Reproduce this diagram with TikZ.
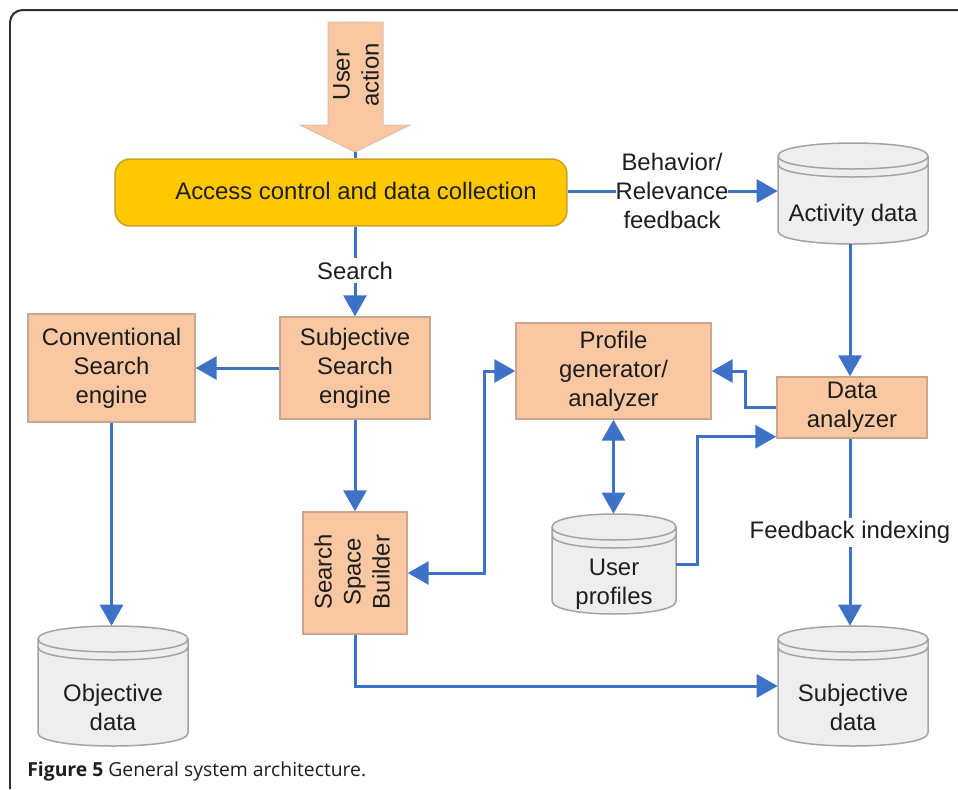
\documentclass[tikz,border=0pt]{standalone}
\usepackage{fontspec}
\setmainfont{Liberation Sans}
\newfontfamily\capfont{Open Sans}
\usetikzlibrary{arrows.meta,calc}

\definecolor{peach}{HTML}{F9C7A2}
\definecolor{peachline}{HTML}{C9A68C}
\definecolor{gold}{HTML}{FFC800}
\definecolor{goldline}{HTML}{C9A227}
\definecolor{flow}{HTML}{3D72C6}
\definecolor{dbfill}{HTML}{EEEEEE}
\definecolor{dbline}{HTML}{A3A3A3}
\definecolor{ink}{HTML}{1E1E1E}
\definecolor{frameline}{HTML}{2E2E2E}

\tikzset{
  x=0.02cm, y=-0.02cm,
  txt/.style={font=\fontsize{13.6}{16.5}\selectfont, text=ink, align=center, inner sep=1pt},
  proc/.style={txt, draw=peachline, fill=peach, line width=0.03cm, inner sep=0pt},
  flowline/.style={draw=flow, line width=0.06cm},
  tip/.style={-{Triangle[length=0.42cm,width=0.46cm]}},
  twotips/.style={{Triangle[length=0.42cm,width=0.46cm]}-{Triangle[length=0.42cm,width=0.46cm]}},
  gap/.style={txt, fill=white, inner sep=2pt},
  dbshape/.style={draw=dbline, fill=dbfill, line width=0.03cm},
}

% database cylinder: name, left, right, top, bottom, text y, text
\newcommand\dbcyl[7]{%
  \draw[dbshape] (#2,#4+13) -- (#2,#5-13)
    .. controls (#2,#5+4.33) and (#3,#5+4.33) .. (#3,#5-13)
    -- (#3,#4+13)
    .. controls (#3,#4-4.33) and (#2,#4-4.33) .. (#2,#4+13) -- cycle;
  \draw[draw=dbline, line width=0.03cm] (#2,#4+13)
    .. controls (#2,#4+30.33) and (#3,#4+30.33) .. (#3,#4+13);
  \draw[draw=dbline, line width=0.03cm] (#2,#4+21)
    .. controls (#2,#4+38.33) and (#3,#4+38.33) .. (#3,#4+21);
  \node[minimum width={(#3-#2)*0.569pt}, minimum height={(#5-#4)*0.569pt}, inner sep=0pt]
    (#1) at ({(#2+#3)/2},{(#4+#5)/2}) {};
  \node[txt] (#1-txt) at ({(#2+#3)/2},#6) {#7};
}

\begin{document}
\begin{tikzpicture}
\useasboundingbox (0,0) rectangle (958,789);

% outer frame
\draw[frameline, line width=0.04cm, rounded corners=0.25cm] (10,789) -- (10,10) -- (958,10);

% user action arrow
\draw[fill=peach, draw=peachline!70, line width=0.02cm]
  (328,22) -- (383,22) -- (383,125) -- (410,125) -- (355,152) -- (300,125) -- (328,125) -- cycle;
\node[txt, rotate=90] (useraction) at (356,75) {User\\action};
\coordinate (arrowtip) at (355,152);

% access control
\node[draw=goldline, fill=gold, line width=0.03cm, rounded corners=0.3cm,
      minimum width={452*0.569pt}, minimum height={67*0.569pt}, inner sep=0pt]
  (acc) at (341,192.5) {};
\node[txt] (acc-txt) at (356,191) {Access control and data collection};

% processing boxes
\node[proc, minimum width={167*0.569pt}, minimum height={108*0.569pt}] (conv) at (111.5,368) {Conventional\\Search\\engine};
\node[proc, minimum width={150*0.569pt}, minimum height={102*0.569pt}] (subj) at (355,368) {Subjective\\Search\\engine};
\node[proc, minimum width={195*0.569pt}, minimum height={96*0.569pt}] (prof) at (613.5,371) {Profile\\generator/\\analyzer};
\node[proc, minimum width={150*0.569pt}, minimum height={61*0.569pt}] (da) at (852,407.5) {Data\\analyzer};
\node[proc, minimum width={104*0.569pt}, minimum height={122*0.569pt}] (ssb) at (355,573) {};
\node[txt, rotate=90] (ssb-txt) at (352,572) {Search\\Space\\Builder};

% databases
\dbcyl{act}{778}{928}{143}{244}{215}{Activity data}
\dbcyl{up}{552}{676}{514}{614}{584}{User\\profiles}
\dbcyl{obj}{38}{188}{626}{746}{707}{Objective\\data}
\dbcyl{sd}{778}{928}{626}{746}{707}{Subjective\\data}

% connectors
\draw[flowline] (arrowtip) -- (arrowtip |- acc.north);

\draw[flowline, tip] (acc.east |- 0,191) -- (act.west |- 0,191);
\node[txt, fill=white, inner sep=0pt] (fb) at (672,191) {Behavior/\\Relevance\\feedback};

\draw[flowline, tip] (acc.south -| subj.north) -- (subj.north)
  node[gap, pos=0.49] (searchlbl) {Search};

\draw[flowline, tip] (subj.west) -- (conv.east |- subj.west);
\draw[flowline, tip] (conv.south) -- (conv.south |- obj.north);
\draw[flowline, tip] (subj.south) -- (ssb.north);

\coordinate (bendA) at (484,0);
\draw[flowline, twotips] (ssb.east) -- (ssb.east -| bendA) |- (prof.west);

\draw[flowline, twotips] (prof.south) -- (prof.south |- up.north);

\coordinate (bendB) at (745,0);
\draw[flowline, tip] (da.west) -- (da.west -| bendB) |- (prof.east);

\coordinate (bendC) at (697,0);
\coordinate (daIn) at ([yshift=0.04cm]da.south west);
\draw[flowline, tip] (up.east) -- (up.east -| bendC) |- (daIn);

\draw[flowline, tip] (act.south -| 850,0) -- (da.north -| 850,0);
\draw[flowline, tip] (da.south -| 850,0) -- (sd.north -| 850,0)
  node[gap, pos=0.5] (fblbl) {Feedback indexing};

\draw[flowline, tip] (ssb.south) |- (sd.west);

% caption
\node[anchor=west, inner sep=0pt, text=ink, font=\capfont\fontsize{11}{13}\selectfont]
  (caption) at (27,771) {\textbf{Figure 5} General system architecture.};
\end{tikzpicture}
\end{document}
